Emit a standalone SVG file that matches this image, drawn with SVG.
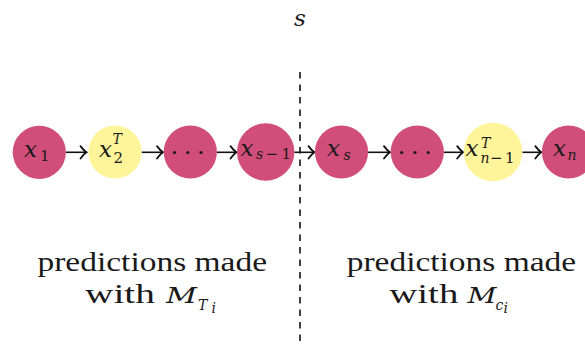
<svg xmlns="http://www.w3.org/2000/svg" width="585" height="346" viewBox="0 0 585 346">
<style>
text{font-family:'Liberation Serif','Times New Roman',serif;fill:#1a1a1a}
.pink{fill:#D14E7A}
.yel{fill:#FEF59B}
.m{font-family:'DejaVu Serif',serif;font-style:italic;font-size:23px}
.sb{font-family:'DejaVu Serif',serif;font-size:15px}
.si{font-family:'DejaVu Serif',serif;font-style:italic;font-size:14px}
.t{font-size:28px}
.arr{stroke:#111;stroke-width:1.6;fill:none}
.dot{fill:#1a1a1a}
</style>
<defs>
<marker id="ah" markerUnits="userSpaceOnUse" markerWidth="12" markerHeight="16" viewBox="-8 -8 9 16" refX="0" refY="0" orient="auto">
<path d="M-6,-6.2 Q-2.5,-1.5 0,0 Q-2.5,1.5 -6,6.2" stroke="#111" stroke-width="1.8" fill="none" stroke-linecap="round"/>
</marker>
</defs>
<text class="m" x="300" y="26" text-anchor="middle">s</text>
<line x1="300" y1="72" x2="300" y2="346" stroke="#111" stroke-width="1.6" stroke-dasharray="6.5 6"/>
<g id="connectors">
<line class="arr" x1="66" y1="152.3" x2="86.5" y2="152.3" marker-end="url(#ah)"/>
<line class="arr" x1="141.5" y1="152.3" x2="163" y2="152.3" marker-end="url(#ah)"/>
<line class="arr" x1="216.8" y1="152.3" x2="236.5" y2="152.3" marker-end="url(#ah)"/>
<line class="arr" x1="294.3" y1="152.3" x2="314.5" y2="152.3" marker-end="url(#ah)"/>
<line class="arr" x1="368" y1="152.3" x2="390" y2="152.3" marker-end="url(#ah)"/>
<line class="arr" x1="443.8" y1="152.3" x2="463.2" y2="152.3" marker-end="url(#ah)"/>
<line class="arr" x1="522.3" y1="152.3" x2="541.3" y2="152.3" marker-end="url(#ah)"/>
</g>
<g id="n1">
<circle class="pink" cx="39.3" cy="152.3" r="26.6"/>
<text class="m" x="24" y="156.7">x</text>
<text class="sb" x="40" y="160.7">1</text>
</g>
<g id="n2">
<circle class="yel" cx="115" cy="152" r="26.6"/>
<text class="m" x="99" y="156.7">x</text>
<text class="si" x="112.5" y="144">T</text>
<text class="sb" x="113.5" y="163.3">2</text>
</g>
<g id="n3">
<circle class="pink" cx="190.3" cy="152" r="26.6"/>
<circle class="dot" cx="174.5" cy="152.5" r="1.6"/>
<circle class="dot" cx="187.7" cy="152.5" r="1.6"/>
<circle class="dot" cx="201" cy="152.5" r="1.6"/>
</g>
<g id="n4">
<circle class="pink" cx="265.7" cy="152" r="28.7"/>
<text class="m" x="240.5" y="156">x</text>
<text class="si" x="256" y="159">s</text>
<text class="sb" x="265.5" y="159">−</text>
<text class="sb" x="281.5" y="159">1</text>
</g>
<g id="n5">
<circle class="pink" cx="341.5" cy="152" r="26.6"/>
<text class="m" x="327" y="155.7">x</text>
<text class="si" x="343.5" y="160">s</text>
</g>
<g id="n6">
<circle class="pink" cx="417.3" cy="152" r="26.6"/>
<circle class="dot" cx="401.7" cy="152.5" r="1.6"/>
<circle class="dot" cx="415" cy="152.5" r="1.6"/>
<circle class="dot" cx="428.3" cy="152.5" r="1.6"/>
</g>
<g id="n7">
<circle class="yel" cx="493" cy="152" r="29.3"/>
<text class="m" x="465.5" y="156">x</text>
<text class="si" x="481" y="147.5">T</text>
<text class="si" x="480.5" y="163">n</text>
<text class="sb" x="490" y="163">−</text>
<text class="sb" x="505" y="163">1</text>
</g>
<g id="n8">
<circle class="pink" cx="568.5" cy="152" r="26.6"/>
<text class="m" x="553" y="156">x</text>
<text class="si" x="567.5" y="160">n</text>
</g>
<g id="label-left">
<text class="t" x="37.5" y="271" textLength="229.5" lengthAdjust="spacingAndGlyphs">predictions made</text>
<text class="t" x="85" y="303.3" textLength="70" lengthAdjust="spacingAndGlyphs">with</text>
<text class="m" x="166" y="303.3" font-size="24" textLength="31" lengthAdjust="spacingAndGlyphs">M</text>
<text class="si" x="198" y="310" font-size="15">T</text>
<text class="si" x="211.5" y="312.5" font-size="11">i</text>
</g>
<g id="label-right">
<text class="t" x="346.7" y="271" textLength="229.5" lengthAdjust="spacingAndGlyphs">predictions made</text>
<text class="t" x="389.3" y="303.3" textLength="69" lengthAdjust="spacingAndGlyphs">with</text>
<text class="m" x="467.5" y="303.3" font-size="24" textLength="29" lengthAdjust="spacingAndGlyphs">M</text>
<text class="si" x="495.5" y="310">c</text>
<text class="si" x="503.5" y="312.5" font-size="11">i</text>
</g>
</svg>
